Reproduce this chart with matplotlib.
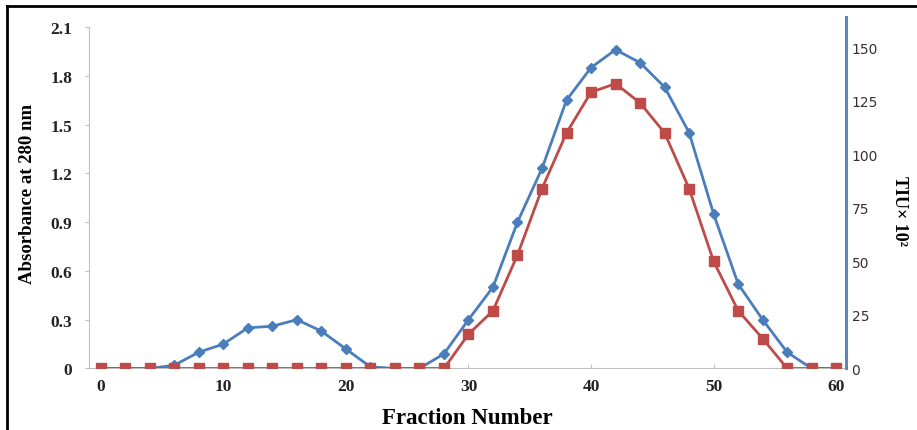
import matplotlib.pyplot as plt
from matplotlib.lines import Line2D

fractions = list(range(0, 62, 2))
absorbance = [0, 0, 0, 0.02, 0.10, 0.15, 0.25, 0.26, 0.30, 0.23, 0.12, 0.01, 0, 0,
              0.09, 0.30, 0.50, 0.90, 1.23, 1.65, 1.85, 1.96, 1.88, 1.73, 1.45, 0.95,
              0.52, 0.30, 0.10, 0, 0]
tiu = [0, 0, 0, 0, 0, 0, 0, 0, 0, 0, 0, 0, 0, 0,
       0, 16, 27, 53, 84, 110, 129, 133, 124, 110, 84, 50, 27, 14, 0, 0, 0]

left_ticks = [0, 0.3, 0.6, 0.9, 1.2, 1.5, 1.8, 2.1]
left_labels = ['0', '0.3', '0.6', '0.9', '1.2', '1.5', '1.8', '2.1']
right_ticks = [0, 25, 50, 75, 100, 125, 150]
x_ticks = [0, 10, 20, 30, 40, 50, 60]

blue = '#4a7ebb'
red = '#be4b48'
serif = 'Liberation Serif'

fig = plt.figure(figsize=(9.17, 4.31), dpi=100)
ax = fig.add_axes([0.0971, 0.1427, 0.8255, 0.8155])
ax2 = ax.twinx()

ax.plot(fractions, absorbance, color=blue, lw=2, marker='D', ms=5.5,
        mfc=blue, mec=blue, zorder=3)
ax2.plot(fractions, tiu, color=red, lw=2, marker='s', ms=7,
         mfc=red, mec=red, zorder=3)

ax.set_xlim(-0.95, 60.8)
ax.set_ylim(0, 2.161)
ax2.set_ylim(0, 164.1)

for a in (ax, ax2):
    for side in ('top', 'right', 'left', 'bottom'):
        a.spines[side].set_visible(False)

ax.spines['left'].set_visible(True)
ax.spines['left'].set_bounds(0, 2.1)
ax.spines['left'].set_color('#bfbfbf')
ax.spines['bottom'].set_visible(True)
ax.spines['bottom'].set_color('#bfbfbf')
ax2.spines['right'].set_visible(True)
ax2.spines['right'].set_color('#5d87b8')
ax2.spines['right'].set_linewidth(2.2)

ax.set_yticks(left_ticks)
ax.set_yticklabels(left_labels)
ax.set_xticks(x_ticks)
ax.tick_params(axis='y', length=3, color='#bfbfbf', pad=9)
ax.tick_params(axis='x', length=3, direction='in', color='#bfbfbf', pad=7)
for lab in ax.get_yticklabels() + ax.get_xticklabels():
    lab.set_fontfamily(serif)
    lab.set_fontweight('bold')
    lab.set_fontsize(12.5)
    lab.set_color('#222222')

ax2.set_yticks(right_ticks)
ax2.tick_params(axis='y', length=0, pad=4, labelsize=10, labelcolor='#333333')

ax.set_xlabel('Fraction Number', fontfamily=serif, fontweight='bold',
              fontsize=16.5, labelpad=9)
ax.set_ylabel('Absorbance at 280 nm', fontfamily=serif, fontweight='bold',
              fontsize=13.5, labelpad=10)
ax2.set_ylabel('TIU× 10²', fontfamily=serif, fontweight='bold',
               fontsize=13, rotation=-90, va='center')
ax2.yaxis.set_label_coords(1.071, 0.45)

# outer frame lines (top and left)
fig.add_artist(Line2D([7 / 917, 1], [1 - 7 / 431, 1 - 7 / 431],
                      transform=fig.transFigure, color='black', lw=2))
fig.add_artist(Line2D([7 / 917, 7 / 917], [0, 1 - 7 / 431],
                      transform=fig.transFigure, color='black', lw=2))

fig.savefig('out.png', dpi=100)
